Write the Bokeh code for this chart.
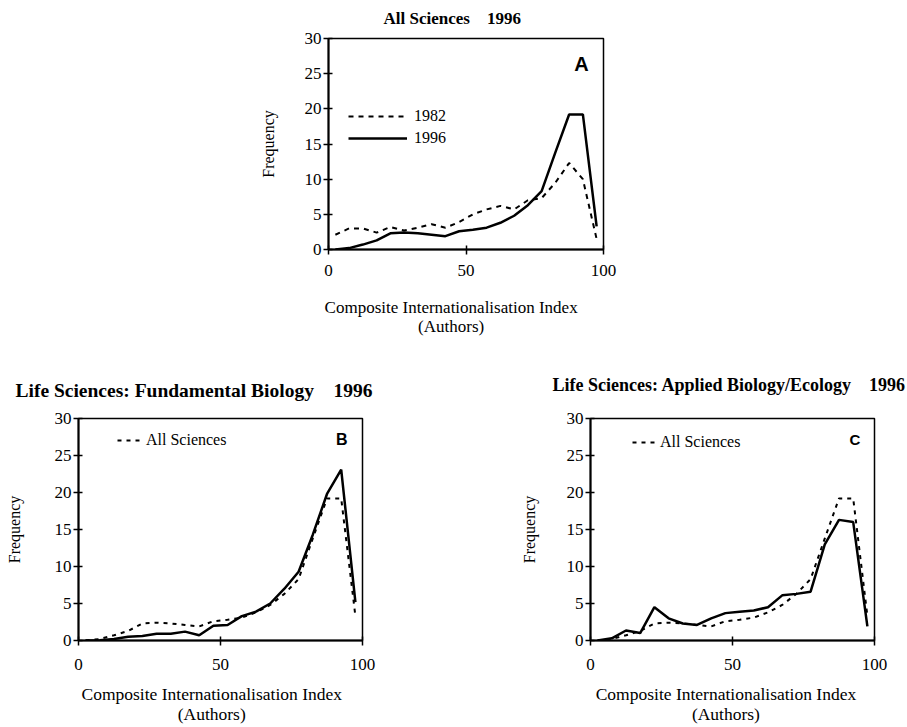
from bokeh.plotting import figure
from bokeh.layouts import column, row
from bokeh.models import Range1d, FixedTicker, Legend, LegendItem, Label
from bokeh.embed import file_html
from bokeh.resources import INLINE

# ---- data (Composite Internationalisation Index bins, frequency %) ----
ci_index = [2.5, 7.5, 12.5, 17.5, 22.5, 27.5, 32.5, 37.5, 42.5, 47.5,
            52.5, 57.5, 62.5, 67.5, 72.5, 77.5, 82.5, 87.5, 92.5, 97.5]
all_sciences_1982 = [2.1, 3.0, 3.0, 2.4, 3.2, 2.7, 3.1, 3.6, 3.1, 3.9,
                     5.0, 5.7, 6.2, 5.7, 7.0, 7.3, 9.5, 12.3, 10.0, 1.5]
all_sciences_1996 = [0.0, 0.2, 0.7, 1.3, 2.3, 2.4, 2.3, 2.1, 1.9, 2.6,
                     2.8, 3.1, 3.8, 4.8, 6.3, 8.3, 13.8, 19.2, 19.2, 3.3]
fundamental_biology_1996 = [0.0, 0.05, 0.2, 0.5, 0.6, 0.9, 0.9, 1.2, 0.7, 2.0,
                            2.1, 3.3, 3.9, 5.0, 7.0, 9.3, 14.3, 19.8, 23.1, 5.2]
applied_biology_1996 = [0.0, 0.3, 1.35, 1.0, 4.5, 3.0, 2.3, 2.1, 3.0, 3.7,
                        3.9, 4.05, 4.5, 6.1, 6.3, 6.6, 13.0, 16.3, 16.0, 1.9]
x_ticks = [0, 50, 100]
y_ticks = [0, 5, 10, 15, 20, 25, 30]

SERIF = "Liberation Serif"
SANS = "Liberation Sans"
GAP = "\u00a0\u00a0\u00a0\u00a0"


def x_label(shift_spaces):
    pad = "\u00a0" * shift_spaces
    return "Composite Internationalisation Index" + pad + "\n(Authors)" + pad


def make_panel(frame_w, frame_h, left, right, top, bottom, title, t_offset,
               t_standoff, t_valign, t_size, lab_size, xlab, xlab_standoff,
               xtick_standoff, ylab_standoff):
    p = figure(frame_width=frame_w, frame_height=frame_h,
               min_border_left=left, min_border_right=right,
               min_border_top=top, min_border_bottom=bottom,
               x_range=Range1d(0, 100), y_range=Range1d(0, 30),
               output_backend="svg", toolbar_location=None)
    p.title.text = title
    p.title.align = "left"
    p.title.offset = t_offset
    p.title.standoff = t_standoff
    p.title.vertical_align = t_valign
    p.title.text_font = SERIF
    p.title.text_font_size = t_size
    p.title.text_font_style = "bold"
    p.title.text_color = "black"
    p.xgrid.visible = False
    p.ygrid.visible = False
    p.outline_line_color = "black"
    p.outline_line_width = 1.5
    p.background_fill_color = "white"
    p.border_fill_color = "white"
    for ax, ticks in ((p.xaxis[0], x_ticks), (p.yaxis[0], y_ticks)):
        ax.ticker = FixedTicker(ticks=ticks)
        ax.axis_line_width = 2
        ax.axis_line_color = "black"
        ax.major_tick_line_width = 1.5
        ax.major_tick_line_color = "black"
        ax.major_tick_in = 4
        ax.major_tick_out = 5
        ax.minor_tick_line_color = None
        ax.major_label_text_font = SERIF
        ax.major_label_text_font_size = "17px"
        ax.major_label_text_color = "black"
        ax.axis_label_text_font = SERIF
        ax.axis_label_text_font_style = "normal"
        ax.axis_label_text_color = "black"
    p.xaxis[0].axis_label = xlab
    p.xaxis[0].axis_label_text_font_size = lab_size
    p.xaxis[0].axis_label_text_line_height = 1.0
    p.xaxis[0].major_label_standoff = xtick_standoff
    p.xaxis[0].axis_label_standoff = xlab_standoff
    p.yaxis[0].axis_label = "Frequency"
    p.yaxis[0].axis_label_text_font_size = "16px"
    p.yaxis[0].major_label_standoff = 2
    p.yaxis[0].axis_label_standoff = ylab_standoff
    return p


# ---- Panel A ----
pA = make_panel(275, 211, 328, 304, 37, 97, "All Sciences" + GAP + "1996",
                55, 17, "top", "17px", "17px", x_label(7), 19, 10, 25)
rA82 = pA.line(ci_index, all_sciences_1982, line_color="black", line_width=2,
               line_dash="5 5")
rA96 = pA.line(ci_index, all_sciences_1996, line_color="black", line_width=2.5)
legA = Legend(items=[LegendItem(label="1982", renderers=[rA82]),
                     LegendItem(label="1996", renderers=[rA96])],
              location=(20, 101), border_line_color=None,
              background_fill_alpha=0, padding=0, margin=0,
              glyph_width=59, glyph_height=20, label_height=20, spacing=2,
              label_standoff=7, label_text_font=SERIF,
              label_text_font_size="16px", label_text_color="black")
pA.add_layout(legA)
pA.add_layout(Label(x=92, y=26.4, text="A", text_font=SANS,
                    text_font_style="bold", text_font_size="20px",
                    text_align="center", text_baseline="middle",
                    text_color="black"))

# ---- Panel B ----
pB = make_panel(284, 222, 78, 30, 72, 88,
                "Life Sciences: Fundamental Biology" + GAP + "1996",
                -63, 36, "bottom", "19.5px", "17.5px", x_label(4), 11, 13, 29)
rB_all = pB.line(ci_index, all_sciences_1996, line_color="black", line_width=2,
                 line_dash="4 5")
pB.line(ci_index, fundamental_biology_1996, line_color="black", line_width=2.5)
legB = Legend(items=[LegendItem(label="All Sciences", renderers=[rB_all])],
              location=(39, 190), border_line_color=None,
              background_fill_alpha=0, padding=0, margin=0,
              glyph_width=27, glyph_height=20, label_height=20,
              label_standoff=2, label_text_font=SERIF,
              label_text_font_size="16px", label_text_color="black")
pB.add_layout(legB)
pB.add_layout(Label(x=92.7, y=27.1, text="B", text_font=SANS,
                    text_font_style="bold", text_font_size="16px",
                    text_align="center", text_baseline="middle",
                    text_color="black"))

# ---- Panel C ----
pC = make_panel(284, 222, 198, 33, 72, 88,
                "Life Sciences: Applied Biology/Ecology" + GAP + "1996",
                -38, 48, "bottom", "18px", "17.5px", x_label(3), 11, 13, 26)
rC_all = pC.line(ci_index, all_sciences_1996, line_color="black", line_width=2,
                 line_dash="4 5")
pC.line(ci_index, applied_biology_1996, line_color="black", line_width=2.5)
legC = Legend(items=[LegendItem(label="All Sciences", renderers=[rC_all])],
              location=(42, 188), border_line_color=None,
              background_fill_alpha=0, padding=0, margin=0,
              glyph_width=25, glyph_height=20, label_height=20,
              label_standoff=3, label_text_font=SERIF,
              label_text_font_size="16px", label_text_color="black")
pC.add_layout(legC)
pC.add_layout(Label(x=93.1, y=27.2, text="C", text_font=SANS,
                    text_font_style="bold", text_font_size="15px",
                    text_align="center", text_baseline="middle",
                    text_color="black"))

layout = column(pA, row(pB, pC, spacing=0), spacing=0)
open("out.html", "w").write(file_html(layout, INLINE))
